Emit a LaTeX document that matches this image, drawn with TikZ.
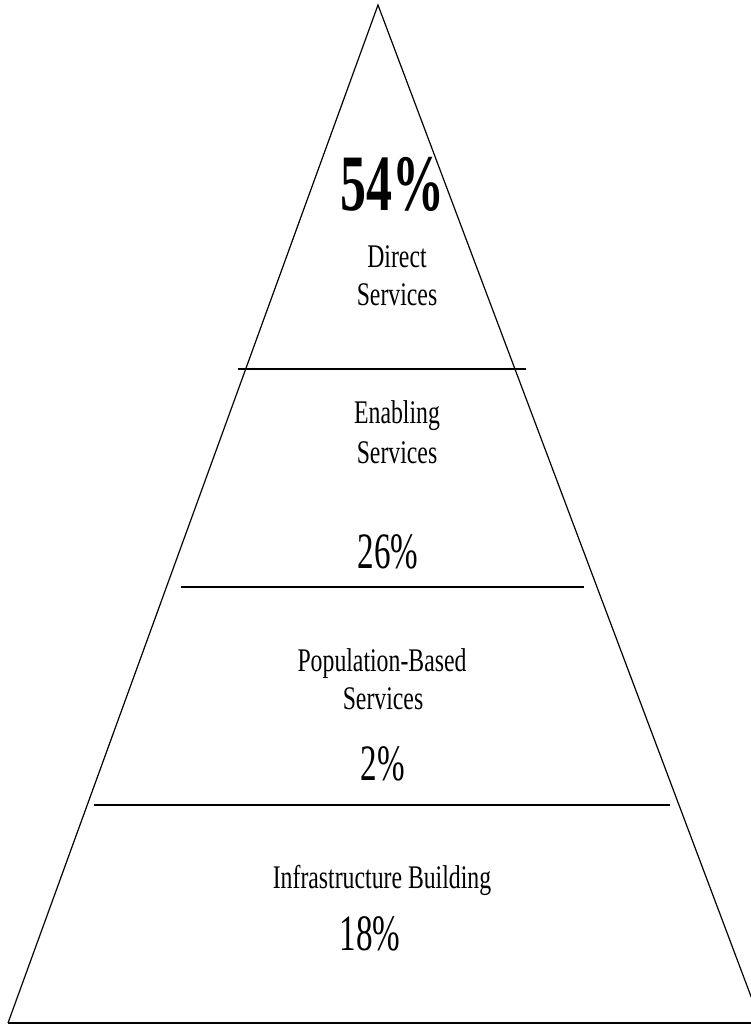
\documentclass[tikz,border=0pt]{standalone}
\usepackage{fontspec}
\setmainfont{Liberation Serif}
\newfontfamily\lblfont{Liberation Serif}[FakeStretch=0.72]
\newfontfamily\pctfont{Liberation Serif}[FakeStretch=0.65]

\begin{document}
\begin{tikzpicture}[x=1pt, y=-1pt,
        side/.style={line width=1.2pt},
        tier/.style={line width=1.8pt},
        lbl/.style={inner sep=0pt, anchor=base, font=\lblfont\fontsize{33}{33}\selectfont},
        pct/.style={inner sep=0pt, anchor=base, font=\pctfont\fontsize{51}{51}\selectfont},
      ]
        \useasboundingbox (0,0) rectangle (751,1026);

        % pyramid outline
        \coordinate (apex) at (378,5);
        \coordinate (bl) at (8,1023);
        \coordinate (br) at (761,1023);
        \coordinate (be) at (751,1023);
        \draw[side, line join=miter] (bl) -- (apex) -- (br);
        \draw[tier] (bl) -- (be);

        % tier lines
        \coordinate (t1l) at (238,369);  \coordinate (t1r) at (526,369);
        \coordinate (t2l) at (181,587);  \coordinate (t2r) at (584,587);
        \coordinate (t3l) at (94,805);   \coordinate (t3r) at (670,805);
        \draw[tier] (t1l) -- (t1r);
        \draw[tier] (t2l) -- (t2r);
        \draw[tier] (t3l) -- (t3r);

        % top tier
        \node[pct, font=\pctfont\bfseries\fontsize{80}{80}\selectfont] (p54) at (392,210) {54\%};
        \node[lbl] (ds1) at (397,267) {Direct};
        \node[lbl] (ds2) at (397,305) {Services};

        % second tier
        \node[lbl] (es1) at (397,423) {Enabling};
        \node[lbl] (es2) at (397,463) {Services};
        \node[pct] (p26) at (388,568) {26\%};

        % third tier
        \node[lbl] (pb1) at (382,671) {Population-Based};
        \node[lbl] (pb2) at (383,709) {Services};
        \node[pct] (p2) at (383,780) {2\%};

        % base tier
        \node[lbl] (ib) at (382,888) {Infrastructure Building};
        \node[pct] (p18) at (370,950) {18\%};
\end{tikzpicture}
\end{document}
